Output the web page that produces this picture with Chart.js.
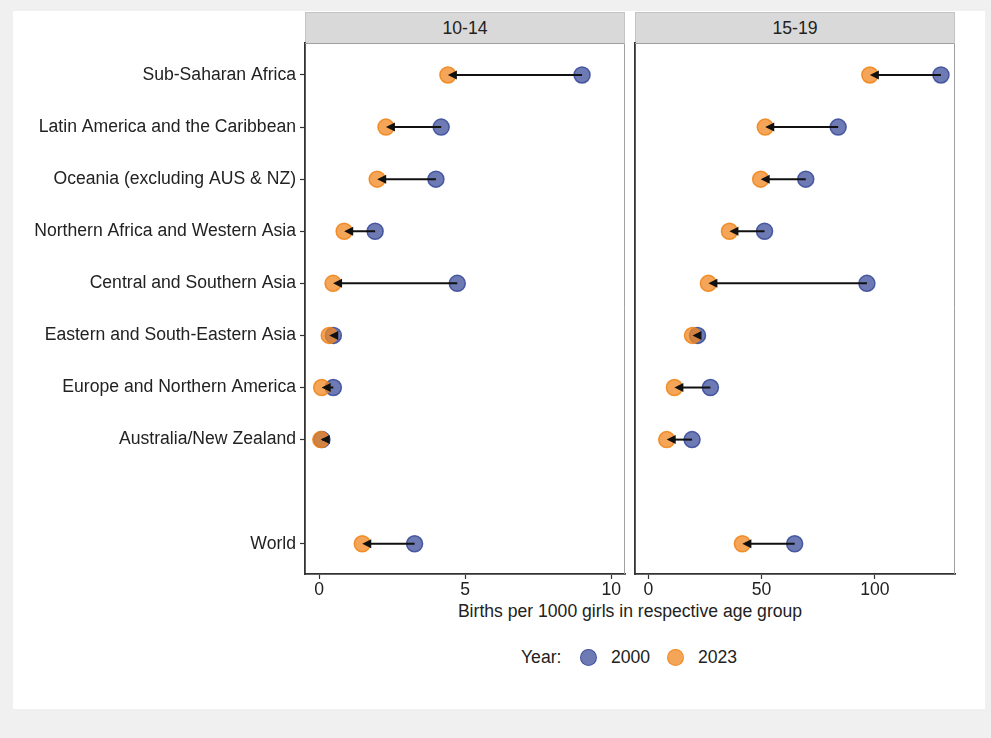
<!DOCTYPE html>
<html>
<head>
<meta charset="utf-8">
<script src="https://cdn.jsdelivr.net/npm/chart.js@4"></script>
<style>
  html, body { margin: 0; padding: 0; background: #f0f0f0; }
  body { width: 991px; height: 738px; position: relative; overflow: hidden;
         font-family: 'Liberation Sans', Arial, sans-serif; color: #222; }
  #card { position: absolute; left: 13px; top: 11px; width: 972px; height: 698px; background: #fff; }
  canvas { position: absolute; }
  .strip { position: absolute; top: 12px; height: 31px; background: #d9d9d9;
           box-sizing: border-box; border: 1px solid #c4c4c4; border-bottom: none;
           font-size: 17.6px; line-height: 30px; text-align: center; color: #222; }
  #xtitle { position: absolute; left: 305px; width: 650px; top: 601px; text-align: center; font-size: 17.6px; }
  #legend { position: absolute; left: 0; width: 991px; top: 645px; height: 24px; font-size: 17.6px; }
  #legend span { position: absolute; top: 0; line-height: 24px; }
  #legend .dot { width: 15px; height: 15px; border-radius: 50%; top: 3.5px; }
</style>
</head>
<body>
<div id="card"></div>
<div class="strip" style="left:305px;width:320px;">10-14</div>
<div class="strip" style="left:635px;width:320px;">15-19</div>
<canvas id="left" width="640" height="600" style="left:0;top:0;"></canvas>
<canvas id="right" width="350" height="600" style="left:620px;top:0;"></canvas>
<div id="xtitle">Births per 1000 girls in respective age group</div>
<div id="legend">
  <span style="left:521px;">Year:</span>
  <span class="dot" style="left:580px;background:rgba(60,78,155,0.75);border:1.5px solid rgba(60,78,155,0.9);"></span>
  <span style="left:611px;">2000</span>
  <span class="dot" style="left:667px;background:rgba(242,135,32,0.75);border:1.5px solid rgba(240,130,20,0.85);"></span>
  <span style="left:698px;">2023</span>
</div>
<script>
// regions, top to bottom; the empty entry is the gap before World
const regions = [
  'Sub-Saharan Africa',
  'Latin America and the Caribbean',
  'Oceania (excluding AUS & NZ)',
  'Northern Africa and Western Asia',
  'Central and Southern Asia',
  'Eastern and South-Eastern Asia',
  'Europe and Northern America',
  'Australia/New Zealand',
  '',
  'World'
];
const years = ['2000', '2023'];

// births per 1000 girls, age 10-14
const rate1014_2000 = [9.0, 4.18, 4.0, 1.92, 4.73, 0.49, 0.49, 0.1, null, 3.27];
const rate1014_2023 = [4.41, 2.29, 1.99, 0.86, 0.48, 0.35, 0.09, 0.06, null, 1.48];
// births per 1000 girls, age 15-19
const rate1519_2000 = [129.2, 83.8, 69.5, 51.3, 96.5, 21.7, 27.4, 19.3, null, 64.6];
const rate1519_2023 = [97.8, 51.6, 49.6, 35.8, 26.5, 19.5, 11.5, 8.1, null, 41.5];

const xTicks1014 = [0, 5, 10];
const xTicks1519 = [0, 50, 100];

const blueFill = 'rgba(60,78,155,0.75)', blueLine = 'rgba(60,78,155,0.9)';
const orangeFill = 'rgba(242,135,32,0.75)', orangeLine = 'rgba(240,130,20,0.85)';
const font = { family: "'Liberation Sans', Arial, sans-serif", size: 17.6 };

function points(vals) {
    return vals.map((v, i) => v == null ? null : { x: v, y: i }).filter(Boolean);
}

// gray top/right panel border
const panelBorder = {
    id: 'panelBorder',
    beforeDatasetsDraw(chart) {
        const { ctx, chartArea: a } = chart;
        ctx.save();
        ctx.strokeStyle = '#a0a0a0';
        ctx.lineWidth = 1;
        ctx.beginPath();
        ctx.moveTo(a.left, a.top + 0.5);
        ctx.lineTo(a.right - 0.5, a.top + 0.5);
        ctx.lineTo(a.right - 0.5, a.bottom);
        ctx.stroke();
        ctx.restore();
    }
};

// arrows from 2000 to 2023
const arrows = {
    id: 'arrows',
    afterDatasetsDraw(chart, args, opts) {
        const { ctx } = chart;
        const xs = chart.scales.x, ys = chart.scales.y;
        ctx.save();
        ctx.strokeStyle = '#111';
        ctx.fillStyle = '#111';
        ctx.lineWidth = 2;
        opts.from.forEach((v0, i) => {
            const v1 = opts.to[i];
            if (v0 == null || v1 == null) return;
            const x0 = xs.getPixelForValue(v0), x1 = xs.getPixelForValue(v1);
            const y = ys.getPixelForValue(i);
            const dir = x1 < x0 ? -1 : 1;
            const head = 9, half = 4.5;
            ctx.beginPath();
            ctx.moveTo(x0, y);
            ctx.lineTo(x1 - dir * head * 0.6, y);
            ctx.stroke();
            ctx.beginPath();
            ctx.moveTo(x1, y);
            ctx.lineTo(x1 - dir * head, y - half);
            ctx.lineTo(x1 - dir * head, y + half);
            ctx.closePath();
            ctx.fill();
        });
        ctx.restore();
    }
};

function makePanel(id, v2000, v2023, xMin, xMax, xTicks, showLabels) {
    return new Chart(document.getElementById(id), {
        type: 'scatter',
        data: {
            datasets: [
                { label: years[0], data: points(v2000), order: 2,
                  backgroundColor: blueFill, borderColor: blueLine, borderWidth: 1.5, pointRadius: 8 },
                { label: years[1], data: points(v2023), order: 1,
                  backgroundColor: orangeFill, borderColor: orangeLine, borderWidth: 1.5, pointRadius: 8 }
            ]
        },
        options: {
            responsive: false, animation: false,
            layout: { padding: { top: 43, right: 15, left: 0, bottom: 0 } },
            plugins: { legend: { display: false }, tooltip: { enabled: false }, arrows: { from: v2000, to: v2023 } },
            scales: {
                x: {
                    type: 'linear', min: xMin, max: xMax,
                    afterBuildTicks: s => { s.ticks = xTicks.map(v => ({ value: v })); },
                    afterFit: s => { s.height = 26; s.paddingLeft = 0; s.paddingRight = 0; },
                    grid: { drawOnChartArea: false, color: '#333', tickLength: 5, tickWidth: 1.2 },
                    border: { color: '#333', width: 1.8 },
                    ticks: { color: '#222', font: font, padding: 1, maxRotation: 0 }
                },
                y: {
                    type: 'linear', reverse: true, min: -0.614, max: 9.58,
                    afterBuildTicks: s => {
                        s.ticks = showLabels ? regions.map((r, i) => r ? { value: i } : null).filter(Boolean) : [];
                    },
                    afterFit: s => { s.width = showLabels ? 305 : 15; s.paddingTop = 0; s.paddingBottom = 0; },
                    grid: { drawOnChartArea: false, color: '#333', tickLength: 5, tickWidth: 1.2, drawTicks: showLabels },
                    border: { color: '#333', width: 1.8 },
                    ticks: { display: showLabels, color: '#222', font: font, padding: 4,
                             callback: v => regions[v] }
                }
            }
        },
        plugins: [panelBorder, arrows]
    });
}

makePanel('left', rate1014_2000, rate1014_2023, -0.48, 10.47, xTicks1014, true);
makePanel('right', rate1519_2000, rate1519_2023, -5.9, 135.4, xTicks1519, false);
</script>
</body>
</html>
